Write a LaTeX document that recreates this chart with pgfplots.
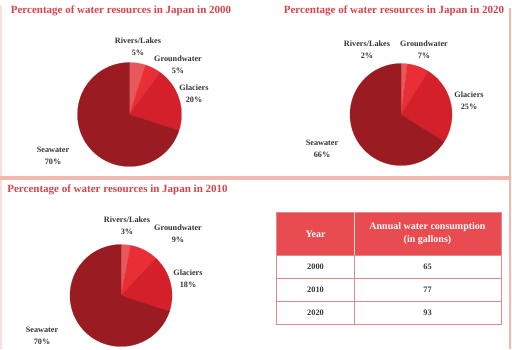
\documentclass[border=0pt]{standalone}
\usepackage{pgfplots}
\pgfplotsset{compat=1.18}
\usepackage{fontspec}
\setmainfont{Liberation Serif}
\definecolor{cRiv}{HTML}{E8575C}
\definecolor{cGrd}{HTML}{E92E35}
\definecolor{cGla}{HTML}{D3202A}
\definecolor{cSea}{HTML}{9A1B22}
\definecolor{cTitle}{HTML}{D8434B}
\definecolor{cLab}{HTML}{333333}
\definecolor{cHead}{HTML}{E84B50}
\definecolor{cGrid}{HTML}{DE8A8F}
\definecolor{cFrame}{HTML}{F2B7AE}
\definecolor{cFrameL}{HTML}{F5E1DA}
% slice: cx, cy, r, cumulative start %, cumulative end %, colour
\newcommand{\slice}[6]{%
  \pgfmathsetmacro{\aLo}{90-3.6*#5}%
  \pgfmathsetmacro{\aHi}{90-3.6*#4}%
  \addplot[draw=#6, line width=0.2pt, fill=#6, domain=\aLo:\aHi, samples=80, variable=\t]
    ({#1+#3*cos(\t)},{#2-#3*sin(\t)}) -- (axis cs:#1,#2) -- cycle;%
}
% pie: cx, cy, r, p1, p2, p3, p4 (percentages, clockwise from top)
\newcommand{\pie}[7]{%
  \pgfmathsetmacro{\cA}{#4}%
  \pgfmathsetmacro{\cB}{#4+#5}%
  \pgfmathsetmacro{\cC}{#4+#5+#6}%
  \pgfmathsetmacro{\cD}{#4+#5+#6+#7}%
  \edef\doslices{%
    \noexpand\slice{#1}{#2}{#3}{0}{\cA}{cRiv}%
    \noexpand\slice{#1}{#2}{#3}{\cA}{\cB}{cGrd}%
    \noexpand\slice{#1}{#2}{#3}{\cB}{\cC}{cGla}%
    \noexpand\slice{#1}{#2}{#3}{\cC}{\cD}{cSea}%
  }\doslices
}
\begin{document}
\begin{tikzpicture}
\begin{axis}[
  scale only axis, width=512pt, height=349pt,
  xmin=0, xmax=512, ymin=0, ymax=349, y dir=reverse,
  hide axis, clip=false,
]
% frame lines
\draw[cFrameL, line width=1.5pt] (axis cs:0.8,5) -- (axis cs:0.8,349);
\draw[cFrame, line width=2pt] (axis cs:510,8) -- (axis cs:510,349);
\draw[cFrame, line width=4pt] (axis cs:0,177.5) -- (axis cs:511,177.5);

% pies
\pie{129.5}{114.5}{52}{5}{5}{20}{70}
\pie{401}{114.5}{51}{2}{7}{25}{66}
\pie{121}{295.5}{51}{3}{9}{18}{70}

\tikzset{ttl/.style={font=\fontsize{11}{13}\selectfont\bfseries, text=cTitle, inner sep=0pt, anchor=center},
         lab/.style={font=\fontsize{8.2}{12}\selectfont\bfseries, text=cLab, align=center, inner sep=0pt, anchor=center}}
\node[ttl] at (axis cs:121,11) {Percentage of water resources in Japan in 2000};
\node[ttl] at (axis cs:394,11) {Percentage of water resources in Japan in 2020};
\node[ttl] at (axis cs:117.5,190) {Percentage of water resources in Japan in 2010};

% labels 2000
\node[lab] at (axis cs:138,47) {Rivers/Lakes\\5\%};
\node[lab] at (axis cs:178,64.5) {Groundwater\\5\%};
\node[lab] at (axis cs:194,94) {Glaciers\\20\%};
\node[lab] at (axis cs:53,156) {Seawater\\70\%};
% labels 2020
\node[lab] at (axis cs:367,50) {Rivers/Lakes\\2\%};
\node[lab] at (axis cs:424,50) {Groundwater\\7\%};
\node[lab] at (axis cs:469,100.5) {Glaciers\\25\%};
\node[lab] at (axis cs:322,149) {Seawater\\66\%};
% labels 2010
\node[lab] at (axis cs:127,225.5) {Rivers/Lakes\\3\%};
\node[lab] at (axis cs:178,233.5) {Groundwater\\9\%};
\node[lab] at (axis cs:188,279) {Glaciers\\18\%};
\node[lab] at (axis cs:42,336) {Seawater\\70\%};

% table
\fill[cHead] (axis cs:276,212) rectangle (axis cs:501,255);
\draw[cGrid, line width=0.6pt] (axis cs:276,212) rectangle (axis cs:501,324);
\draw[cGrid, line width=0.6pt] (axis cs:276,255) -- (axis cs:501,255);
\draw[cGrid, line width=0.6pt] (axis cs:276,278) -- (axis cs:501,278);
\draw[cGrid, line width=0.6pt] (axis cs:276,301) -- (axis cs:501,301);
\draw[cGrid, line width=0.6pt] (axis cs:354,212) -- (axis cs:354,324);
\draw[white!80!cHead, line width=0.6pt] (axis cs:354,212) -- (axis cs:354,255);
\tikzset{hd/.style={font=\fontsize{10}{13}\selectfont\bfseries, text=white, align=center, inner sep=0pt},
         cell/.style={font=\fontsize{8.3}{9}\selectfont\bfseries, text=cLab, inner sep=0pt}}
\node[hd] at (axis cs:315.5,234) {Year};
\node[hd] at (axis cs:427.5,234) {Annual water consumption\\(in gallons)};
\node[cell] at (axis cs:315.5,266.5) {2000};
\node[cell] at (axis cs:427.5,266.5) {65};
\node[cell] at (axis cs:315.5,289.5) {2010};
\node[cell] at (axis cs:427.5,289.5) {77};
\node[cell] at (axis cs:315.5,312.5) {2020};
\node[cell] at (axis cs:427.5,312.5) {93};
\end{axis}
\pgfresetboundingbox
\useasboundingbox (0,0) rectangle (512pt,349pt);
\end{tikzpicture}
\end{document}
